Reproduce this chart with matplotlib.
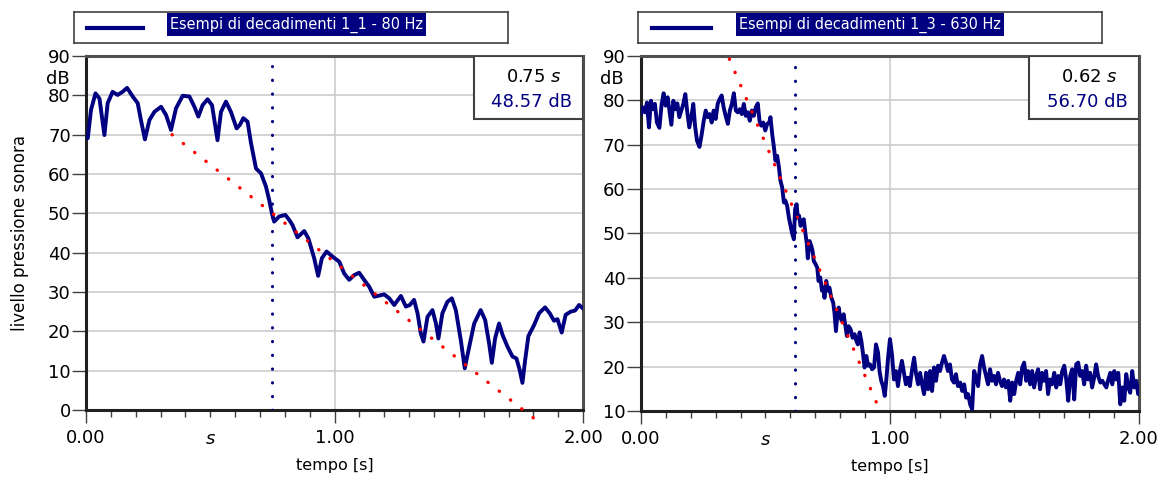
import matplotlib
matplotlib.use('Agg')
import matplotlib.pyplot as plt
from matplotlib.patches import Rectangle

# curva 1_1 - 80 Hz (tempo [s], livello [dB])
t_80 = [0.007, 0.02, 0.038, 0.054, 0.074, 0.087, 0.107, 0.127, 0.147, 0.165, 0.188, 0.208,
        0.221, 0.237, 0.255, 0.275, 0.302, 0.322, 0.342, 0.362, 0.389, 0.416, 0.436, 0.452,
        0.469, 0.489, 0.507, 0.529, 0.543, 0.563, 0.583, 0.606, 0.619, 0.633, 0.65, 0.664,
        0.684, 0.704, 0.724, 0.737, 0.748, 0.757, 0.777, 0.802, 0.818, 0.831, 0.851, 0.878,
        0.895, 0.918, 0.934, 0.949, 0.968, 0.992, 1.019, 1.039, 1.059, 1.079, 1.099, 1.119,
        1.139, 1.16, 1.18, 1.2, 1.22, 1.24, 1.267, 1.287, 1.303, 1.32, 1.334, 1.347, 1.358,
        1.374, 1.394, 1.408, 1.418, 1.434, 1.454, 1.472, 1.488, 1.508, 1.524, 1.542, 1.562,
        1.588, 1.606, 1.622, 1.633, 1.646, 1.662, 1.676, 1.696, 1.716, 1.732, 1.745, 1.756,
        1.767, 1.78, 1.803, 1.823, 1.847, 1.866, 1.883, 1.897, 1.914, 1.93, 1.95, 1.968,
        1.984, 2.0]
lp_80 = [69.1, 76.3, 80.5, 79.2, 69.9, 78.0, 80.9, 80.1, 80.9, 81.9, 79.7, 78.0,
         73.7, 68.8, 73.7, 75.8, 77.1, 75.0, 71.2, 76.7, 79.9, 79.7, 77.1, 74.6,
         77.5, 79.0, 77.5, 68.6, 75.8, 78.4, 75.8, 71.6, 72.5, 74.2, 73.3, 67.8,
         61.4, 60.2, 56.8, 53.4, 50.0, 47.9, 49.2, 49.6, 48.3, 47.0, 43.9, 45.5,
         43.6, 38.6, 34.1, 38.6, 40.3, 39.0, 37.7, 34.7, 33.1, 34.3, 34.9, 33.1,
         31.4, 28.8, 29.1, 29.4, 28.4, 26.7, 29.0, 26.3, 26.7, 28.0, 24.6, 19.5, 17.4,
         23.7, 25.4, 22.0, 18.2, 24.6, 27.5, 28.4, 25.4, 17.8, 10.6, 16.1, 22.0,
         25.4, 22.9, 16.9, 12.0, 18.2, 22.0, 19.1, 16.1, 13.6, 13.1, 10.2, 6.9,
         12.7, 18.8, 21.6, 24.6, 26.1, 24.6, 22.7, 23.1, 19.7, 24.2, 25.0, 25.3,
         26.7, 25.8]

# curva 1_3 - 630 Hz
t_630 = [0.000, 0.007, 0.016, 0.024, 0.032, 0.040, 0.048, 0.056, 0.064, 0.074, 0.083, 0.091,
         0.099, 0.107, 0.115, 0.122, 0.130, 0.138, 0.146, 0.154, 0.162, 0.170, 0.178, 0.186,
         0.194, 0.204, 0.210, 0.217, 0.225, 0.235, 0.244, 0.252, 0.260, 0.268, 0.276, 0.284,
         0.292, 0.300, 0.308, 0.316, 0.324, 0.332, 0.340, 0.349, 0.357, 0.365, 0.373, 0.381,
         0.389, 0.397, 0.405, 0.413, 0.421, 0.429, 0.437, 0.445, 0.453, 0.461, 0.469, 0.476,
         0.483, 0.491, 0.499, 0.507, 0.515, 0.520, 0.527, 0.534, 0.540, 0.547, 0.554, 0.560,
         0.567, 0.574, 0.580, 0.587, 0.594, 0.601, 0.607, 0.614, 0.619, 0.625, 0.630, 0.635,
         0.641, 0.647, 0.654, 0.660, 0.666, 0.670, 0.677, 0.684, 0.689, 0.694, 0.701, 0.708,
         0.713, 0.720, 0.727, 0.733, 0.737, 0.744, 0.751, 0.757, 0.764, 0.772, 0.777, 0.783,
         0.788, 0.794, 0.800, 0.807, 0.814, 0.820, 0.827, 0.834, 0.842, 0.850, 0.858, 0.865,
         0.871, 0.878, 0.885, 0.891, 0.898, 0.905, 0.912, 0.920, 0.928, 0.936, 0.944, 0.952,
         0.958, 0.965, 0.972, 0.979, 0.985, 0.992, 1.000, 1.008, 1.016, 1.024, 1.032, 1.040,
         1.048, 1.056, 1.064, 1.072, 1.080, 1.088, 1.097, 1.105, 1.113, 1.121, 1.129, 1.137,
         1.145, 1.153, 1.161, 1.169, 1.177, 1.185, 1.193, 1.201, 1.209, 1.217, 1.225, 1.233,
         1.241, 1.249, 1.257, 1.265, 1.273, 1.282, 1.290, 1.298, 1.306, 1.314, 1.322, 1.330,
         1.338, 1.346, 1.354, 1.362, 1.370, 1.378, 1.386, 1.394, 1.402, 1.410, 1.418, 1.426,
         1.434, 1.442, 1.450, 1.458, 1.466, 1.475, 1.483, 1.491, 1.499, 1.507, 1.515, 1.523,
         1.531, 1.539, 1.547, 1.555, 1.563, 1.571, 1.579, 1.587, 1.595, 1.603, 1.611, 1.619,
         1.627, 1.635, 1.643, 1.651, 1.660, 1.668, 1.676, 1.684, 1.692, 1.700, 1.708, 1.716,
         1.724, 1.732, 1.740, 1.748, 1.756, 1.764, 1.772, 1.780, 1.788, 1.796, 1.804, 1.812,
         1.820, 1.828, 1.836, 1.845, 1.853, 1.861, 1.869, 1.877, 1.885, 1.893, 1.901, 1.909,
         1.917, 1.925, 1.933, 1.941, 1.949, 1.957, 1.965, 1.973, 1.981, 1.989, 1.997, 2.000]
lp_630 = [76.9, 78.4, 77.3, 79.5, 73.9, 79.9, 78.0, 79.2, 75.0, 73.8, 79.2, 81.6,
          78.8, 80.7, 77.3, 74.5, 79.9, 78.0, 79.3, 76.2, 77.7, 79.2, 81.4, 77.3,
          73.9, 76.9, 79.2, 74.3, 70.9, 69.5, 72.4, 75.4, 77.7, 76.2, 76.9, 75.0,
          77.7, 75.8, 79.2, 80.3, 81.1, 78.4, 76.5, 74.7, 77.7, 79.2, 81.6, 77.7,
          77.3, 78.0, 76.9, 79.2, 76.5, 77.3, 75.4, 77.7, 76.5, 78.4, 79.3, 75.4,
          74.3, 75.0, 73.2, 74.7, 75.0, 76.2, 72.4, 69.4, 66.4, 67.5, 64.9, 61.9,
          60.4, 57.0, 57.4, 56.2, 53.6, 51.7, 50.0, 48.7, 55.5, 56.6, 53.6, 54.0,
          51.7, 52.9, 53.2, 50.2, 47.7, 44.4, 48.3, 47.2, 46.1, 43.8, 43.1, 42.3,
          39.3, 40.1, 37.1, 37.8, 35.5, 39.3, 37.1, 37.8, 35.6, 34.4, 32.2, 28.0,
          31.4, 33.3, 31.1, 30.3, 31.8, 29.5, 26.9, 29.1, 28.4, 26.5, 27.3, 25.8,
          25.0, 27.7, 25.8, 23.2, 19.8, 22.4, 20.2, 20.5, 19.4, 19.8, 25.0, 23.2,
          19.0, 16.8, 15.6, 13.4, 16.8, 21.7, 26.2, 22.8, 17.1, 19.0, 15.6, 19.0,
          21.3, 18.6, 16.0, 17.5, 15.6, 19.0, 22.0, 18.3, 16.0, 18.6, 16.0, 13.8,
          18.6, 14.9, 19.0, 14.5, 19.8, 16.8, 20.2, 19.0, 20.9, 22.4, 20.9, 19.0,
          20.5, 17.1, 16.4, 18.3, 15.6, 16.4, 14.5, 16.0, 13.0, 13.8, 11.5, 10.4,
          19.0, 17.5, 15.6, 20.5, 22.4, 19.8, 17.9, 16.0, 19.4, 16.8, 17.9, 16.0,
          18.6, 16.8, 15.6, 17.1, 15.3, 16.8, 12.3, 16.4, 13.8, 16.8, 18.6, 16.0,
          19.8, 20.9, 16.8, 19.0, 16.0, 19.0, 15.3, 17.9, 19.4, 14.9, 18.6, 16.8,
          19.0, 13.8, 17.1, 16.0, 18.6, 15.3, 17.9, 16.0, 19.0, 20.2, 17.1, 12.3,
          17.9, 19.4, 12.6, 20.5, 20.9, 17.9, 19.0, 16.0, 20.2, 17.1, 18.6, 15.3,
          17.5, 20.5, 17.9, 16.4, 16.8, 16.0, 15.3, 17.1, 18.6, 16.0, 19.0, 17.1,
          18.6, 11.5, 15.3, 12.3, 18.3, 15.3, 14.1, 19.0, 15.3, 16.8, 13.8, 14.9]

# retta di regressione (estremi) e cursore
reg_80_t = [0.346, 1.80]
reg_80_db = [70.0, -2.0]
reg_630_t = [0.355, 0.945]
reg_630_db = [89.3, 12.0]

cursori = [0.75, 0.62]
cursore_db = ['48.57 dB', '56.70 dB']
titoli = ['Esempi di decadimenti 1_1 - 80 Hz', 'Esempi di decadimenti 1_3 - 630 Hz']
ylim = [(0, 90), (10, 90)]

navy = '#000080'

fig = plt.figure(figsize=(11.61, 4.80), dpi=100)
ax1 = fig.add_axes([0.0741, 0.1458, 0.4281, 0.7375])
ax2 = fig.add_axes([0.5521, 0.1438, 0.4289, 0.7396])
axs = [ax1, ax2]
dati = [(t_80, lp_80, reg_80_t, reg_80_db), (t_630, lp_630, reg_630_t, reg_630_db)]

for i, ax in enumerate(axs):
    t, lp, rt, rdb = dati[i]
    y0, y1 = ylim[i]
    ax.set_xlim(0, 2)
    ax.set_ylim(y0, y1)
    ax.set_yticks(range(y0, 91, 10))
    ax.set_xticks([0, 1, 2])
    ax.set_xticklabels(['0.00', '1.00', '2.00'])
    ax.set_xticks([k / 10 for k in range(21)], minor=True)
    ax.tick_params(axis='y', direction='out', length=10, width=1, labelsize=13, pad=1, color='#404040')
    ax.tick_params(axis='x', which='major', direction='out', length=9.5, width=1, labelsize=13, pad=4, color='#404040')
    ax.tick_params(axis='x', which='minor', direction='out', length=5, width=1, color='#404040')
    ax.grid(axis='y', color='#cccccc', lw=1.2)
    ax.axvline(1.0, color='#cccccc', lw=1.2, zorder=0.5)
    for s in ax.spines.values():
        s.set_linewidth(2.2)
        s.set_color('#505050')
    ax.spines['left'].set_color('#202020')
    ax.spines['bottom'].set_color('#202020')

    # curva
    ax.plot(t, lp, color=navy, lw=2.8, zorder=3, solid_joinstyle='round', solid_capstyle='round')
    # regressione
    ax.plot(rt, rdb, color='red', lw=2.4, linestyle=(0, (0.1, 4.2)),
            dash_capstyle='round', zorder=4, clip_on=False)
    # cursore
    ax.plot([cursori[i], cursori[i]], [y0, 87.5], color=navy, lw=2.2,
            linestyle=(0, (0.1, 4.4)), dash_capstyle='round', zorder=4)

    # riquadro valori
    ax.add_patch(Rectangle((0.78, 0.822), 0.22, 0.178, transform=ax.transAxes,
                           facecolor='white', edgecolor='#404040', lw=1.5, zorder=6))
    ax.text(0.957, 0.941, '%.2f $\\mathit{s}$' % cursori[i], transform=ax.transAxes,
            ha='right', va='center', fontsize=13, zorder=7)
    ax.text(0.978, 0.871, cursore_db[i], transform=ax.transAxes, color=navy,
            ha='right', va='center', fontsize=13, zorder=7)

    ax.text(-0.034, 0.935, 'dB', transform=ax.transAxes, ha='right', va='center', fontsize=13)
    ax.text(0.25, -0.082, 's', transform=ax.transAxes, ha='center', va='center',
            fontsize=13, style='italic')
    ax.set_xlabel('tempo [s]', fontsize=11.5, labelpad=8)

    # legenda
    lx = [0.0637, 0.5495][i]
    lw_ = [0.3738, 0.3997][i]
    lg = fig.add_axes([lx, 0.9104, lw_, 0.0646])
    lg.set_xlim(0, 1)
    lg.set_ylim(0, 1)
    lg.set_xticks([])
    lg.set_yticks([])
    for s in lg.spines.values():
        s.set_linewidth(1.2)
        s.set_color('#404040')
    lg.plot([0.03, 0.158], [0.5, 0.5], color=navy, lw=3)
    lg.text([0.221, 0.218][i], 0.6, titoli[i], color='white', fontsize=11.6,
            fontstretch='condensed', ha='left', va='center',
            bbox=dict(boxstyle='square,pad=0.2', facecolor=navy, edgecolor='none'))

ax1.set_ylabel('livello pressione sonora', fontsize=12, labelpad=14)

fig.savefig('out.png', dpi=100)
